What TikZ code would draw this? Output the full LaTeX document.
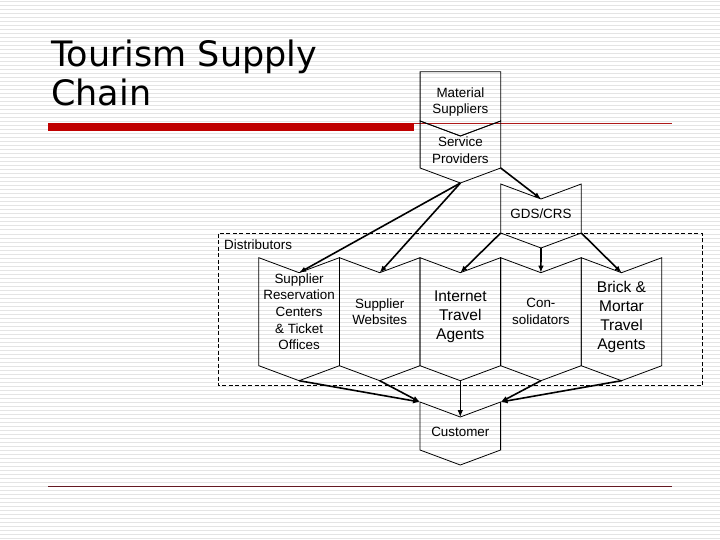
\documentclass[tikz,border=0pt]{standalone}
\usepackage{fontspec}
\setmainfont{Liberation Sans}
\newfontfamily\titlefont{DejaVu Sans}
\usetikzlibrary{arrows.meta,calc}
\definecolor{titleRed}{RGB}{192,0,0}
\definecolor{ruleRed}{RGB}{175,25,25}
\definecolor{ruleDark}{RGB}{100,25,35}
\definecolor{stripeGray}{RGB}{228,228,228}
% pushes a label down inside its chevron
\newcommand{\dropline}{\rule{0pt}{21pt}}

\tikzset{
  chev/.style={minimum width=80.6pt, inner sep=1pt, outer sep=0pt, align=center,
    font=\fontsize{13.4}{16.7}\selectfont},
  bigtxt/.style={font=\fontsize{15.5}{19}\selectfont},
  outline/.style={line width=0.8pt, line join=miter},
  flow/.style={-{Latex[length=7pt,width=5.5pt]}, line width=1.6pt},
  thinflow/.style={flow, line width=0.9pt},
  distframe/.style={line width=0.8pt, dash pattern=on 4pt off 2.5pt},
  titletxt/.style={anchor=base west, inner sep=0, font=\titlefont\fontsize{35}{38}\selectfont},
}

\begin{document}
\begin{tikzpicture}[x=1pt,y=-1pt]
  \useasboundingbox (0,0) rectangle (720,540);
  % striped slide background
  \foreach \y in {2,6,...,538}
    \draw[stripeGray, line width=1pt] (0,\y) -- (720,\y);

  % title and rules
  \node[titletxt] (title1) at (51,66.7) {Tourism Supply};
  \node[titletxt] (title2) at (51,105.3) {Chain};
  \fill[titleRed] (48,123) rectangle (414,131);
  \draw[ruleRed, line width=0.8pt] (414,123.5) -- (672,123.5);
  \draw[ruleDark, line width=1pt] (48,486) -- (672,486);

  % suppliers
  \node[chev, minimum height=49.3pt] (ms) at (460.4,96.35) {\dropline Material\\Suppliers};
  \node[chev, minimum height=47pt] (sp) at (460.4,144.5) {\dropline Service\\Providers};
  \node[chev, minimum height=49pt] (gds) at (541,208.5) {\dropline GDS/CRS};

  % distributors
  \draw[distframe] (218,233.5) rectangle (702.5,385.5);
  \node[anchor=west, inner sep=0, font=\fontsize{13.4}{16}\selectfont] (distlbl) at (224,245) {Distributors};
  \node[chev, minimum height=108pt] (sres) at (299.1,311.7) {Supplier\\Reservation\\Centers\\\& Ticket\\Offices};
  \node[chev, minimum height=108pt] (sweb) at (379.7,311.7) {Supplier\\Websites};
  \node[chev, bigtxt, minimum height=108pt] (ita) at (460.3,311.7) {\dropline Internet\\Travel\\Agents};
  \node[chev, minimum height=108pt] (cons) at (540.9,311.7) {Con-\\solidators};
  \node[chev, bigtxt, minimum height=108pt] (bma) at (621.5,311.7) {\dropline Brick \&\\Mortar\\Travel\\Agents};

  \node[chev, minimum height=48pt] (cust) at (460.3,426) {\dropline Customer};

  % chevron outlines
  \draw[outline] (ms.north west) -- (ms.north east) -- (ms.south east)
    -- ($(ms.south)+(0,15)$) -- (ms.south west) -- cycle;
  \foreach \n in {sp,gds,sres,sweb,ita,cons,bma,cust} {
    \coordinate (\n-in) at ($(\n.north)+(0,15)$);
    \coordinate (\n-out) at ($(\n.south)+(0,15)$);
    \draw[outline] (\n.north west) -- (\n-in) -- (\n.north east) -- (\n.south east)
      -- (\n-out) -- (\n.south west) -- cycle;
  }

  % flows
  \draw[flow] (sp-out) -- (sres-in);
  \draw[flow] (sp-out) -- (sweb-in);
  \draw[flow] (sp.south east) -- (gds-in);
  \draw[flow] (gds.south west) -- (ita-in);
  \draw[flow] (gds-out) -- (cons-in);
  \draw[flow] (gds.south east) -- (bma-in);
  \draw[flow] (sres-out) -- (cust.north west);
  \draw[flow] (sweb-out) -- (cust.north west);
  \draw[thinflow] (ita-out) -- (cust-in);
  \draw[flow] (cons-out) -- (cust.north east);
  \draw[flow] (bma-out) -- (cust.north east);
\end{tikzpicture}
\end{document}
